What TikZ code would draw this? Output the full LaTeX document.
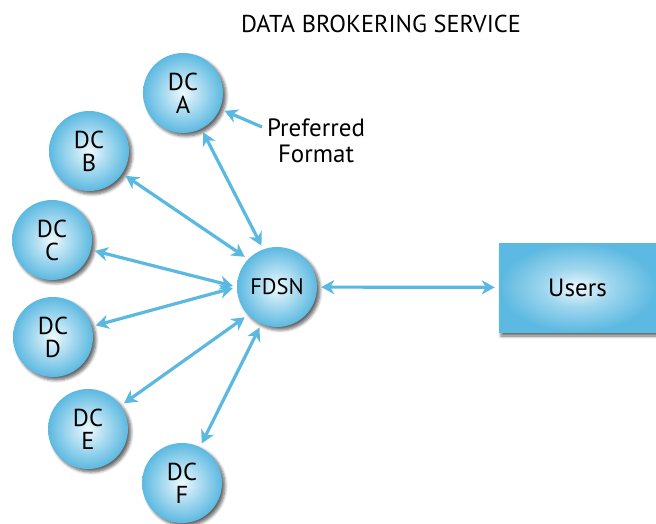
\documentclass[tikz,border=0pt]{standalone}
\usepackage{fontspec}
\setmainfont{PT Sans}
\usetikzlibrary{arrows.meta,shadows.blur}
\definecolor{arrowblue}{HTML}{5AB8E1}
\definecolor{ballouter}{HTML}{5CB9E1}
\definecolor{ballinner}{HTML}{EEF9FD}
\colorlet{ballmid}{ballinner!45!ballouter}
\pgfdeclareradialshading{usershade}{\pgfpoint{0bp}{0bp}}{color(0bp)=(ballinner); color(11bp)=(ballmid); color(25bp)=(ballouter); color(50bp)=(ballouter)}
\begin{document}
\begin{tikzpicture}[x=1pt,y=-1pt,
  dc/.style={circle,minimum size=80pt,inner sep=0pt,inner color=ballinner,outer color=ballouter,
    blur shadow={shadow xshift=3pt,shadow yshift=-3pt,shadow blur steps=6,shadow opacity=60,shadow blur radius=3pt},
    font=\fontsize{24.5}{23}\selectfont,align=center},
  usersbox/.style={rectangle,minimum width=157pt,minimum height=89pt,inner sep=0pt,
    shading=usershade,
    blur shadow={shadow xshift=2pt,shadow yshift=-4pt,shadow blur steps=6,shadow opacity=60,shadow blur radius=3pt},
    font=\fontsize{25}{25}\selectfont},
  btip/.tip={Stealth[length=13pt,width=14pt,inset=4pt]},
  link/.style={draw=arrowblue,line width=3.2pt,btip-btip,shorten <=4pt,shorten >=4pt},
  onelink/.style={draw=arrowblue,line width=3.2pt,-btip},
  label/.style={font=\fontsize{25}{26}\selectfont,align=center}]
\useasboundingbox (0,0) rectangle (656,523);
\node[label,font=\fontsize{24.4}{24}\selectfont] (title) at (381,24) {DATA BROKERING SERVICE};
\node[dc] (A) at (183,93) {DC\\A};
\node[dc] (B) at (89,151) {DC\\B};
\node[dc] (C) at (52,240) {DC\\C};
\node[dc] (D) at (53,337) {DC\\D};
\node[dc] (E) at (88,429) {DC\\E};
\node[dc] (F) at (182,483) {DC\\F};
\node[dc,font=\fontsize{22.5}{23}\selectfont] (FDSN) at (277,287) {FDSN};
\node[usersbox] (U) at (577.5,287.5) {Users};
\node[label] (pf) at (316,141) {Preferred\\Format};
\coordinate (pftail) at (262,127);
\draw[link] (A) -- (FDSN.110);
\draw[link] (B) -- (FDSN.136);
\draw[link] (C) -- (FDSN.west);
\draw[link] (D) -- (FDSN.west);
\draw[link] (E) -- (FDSN.224);
\draw[link] (F) -- (FDSN.247);
\draw[link] (FDSN) -- (U);
\draw[onelink,shorten >=5pt] (pftail) -- (A);
\end{tikzpicture}
\end{document}
